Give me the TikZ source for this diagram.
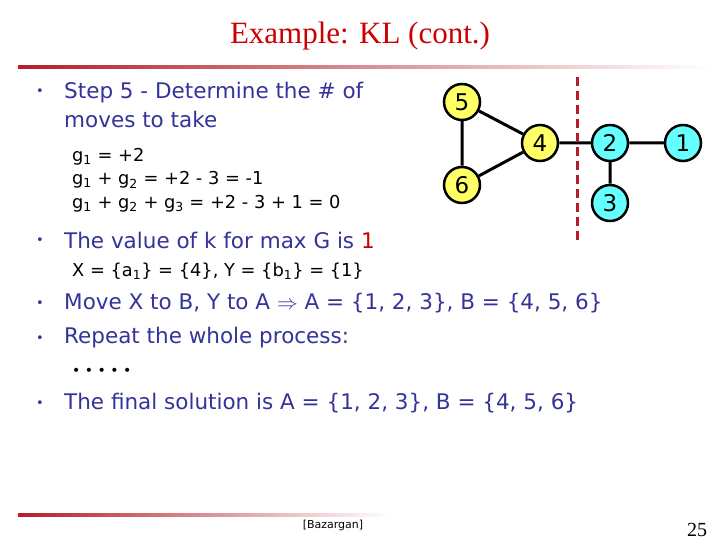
\documentclass[tikz,border=0pt]{standalone}
\usepackage{fontspec}
\setmainfont{DejaVu Sans}
\newfontfamily\titlefont{Liberation Serif}
\definecolor{tblue}{RGB}{51,51,153}
\definecolor{tred}{RGB}{204,0,0}
\definecolor{dred}{RGB}{180,30,40}
\definecolor{ylw}{RGB}{255,255,102}
\definecolor{cyn}{RGB}{102,255,255}
\begin{document}
\begin{tikzpicture}[x=1pt,y=-1pt,
 vtx/.style={circle,draw=black,line width=2.5pt,minimum size=36pt,inner sep=0pt,font=\fontsize{23}{24}\selectfont},
 bul/.style={anchor=west,text=tblue,font=\fontsize{21.5}{29}\selectfont,align=left,inner sep=0pt},
 dot/.style={text=tblue,font=\fontsize{13}{13}\selectfont,inner sep=0pt},
 sub/.style={anchor=west,font=\fontsize{17.8}{23.5}\selectfont,align=left,inner sep=0pt},
 edge/.style={line width=3pt}]
\useasboundingbox (0,0) rectangle (720,540);
\node[text=tred,font=\titlefont\fontsize{31}{34}\selectfont] (title) at (360,36) {Example: KL (cont.)};
\shade[left color=dred,right color=white] (18,66) rectangle (710,69);
\shade[left color=dred,right color=white] (18,513) rectangle (390,516);
% text
\node[dot] (b1) at (40,92) {•};
\node[bul] (t1) at (64,105) {Step 5 - Determine the \# of\\moves to take};
\node[sub] (s1) at (72,180) {g\textsubscript{1} = +2\\g\textsubscript{1} + g\textsubscript{2} = +2 - 3 = -1\\g\textsubscript{1} + g\textsubscript{2} + g\textsubscript{3} = +2 - 3 + 1 = 0};
\node[dot] (b2) at (40,241) {•};
\node[bul] (t2) at (64,240) {The value of k for max G is \textcolor{tred}{1}};
\node[sub] (s2) at (72,271) {X = \{a\textsubscript{1}\} = \{4\}, Y = \{b\textsubscript{1}\} = \{1\}};
\node[dot] (b3) at (40,304) {•};
\node[bul] (t3) at (64,303) {Move X to B, Y to A $\Rightarrow$ A = \{1, 2, 3\}, B = \{4, 5, 6\}};
\node[dot] (b4) at (40,339) {•};
\node[bul] (t4) at (64,338) {Repeat the whole process:};
\node[sub,font=\fontsize{14}{14}\selectfont] (s3) at (72,372) {• • • • •};
\node[dot] (b5) at (40,404) {•};
\node[bul] (t5) at (64,403) {The final solution is A = \{1, 2, 3\}, B = \{4, 5, 6\}};
\node[font=\fontsize{11}{12}\selectfont] (ref) at (333,525) {[Bazargan]};
\node[font=\titlefont\fontsize{20}{22}\selectfont] (pg) at (697,530) {25};
% graph
\node[vtx,fill=ylw] (n5) at (462,102) {5};
\node[vtx,fill=ylw] (n4) at (540,143) {4};
\node[vtx,fill=ylw] (n6) at (462,185) {6};
\node[vtx,fill=cyn] (n2) at (610,143) {2};
\node[vtx,fill=cyn] (n1) at (683,143) {1};
\node[vtx,fill=cyn] (n3) at (610,203) {3};
\draw[edge] (n5)--(n4) (n5)--(n6) (n6)--(n4) (n4)--(n2) (n2)--(n1) (n2)--(n3);
\coordinate (ct) at (577,77);
\coordinate (cb) at (577,242);
\draw[dred,line width=3pt,dash pattern=on 9pt off 5pt] (ct)--(cb);
\end{tikzpicture}
\end{document}
